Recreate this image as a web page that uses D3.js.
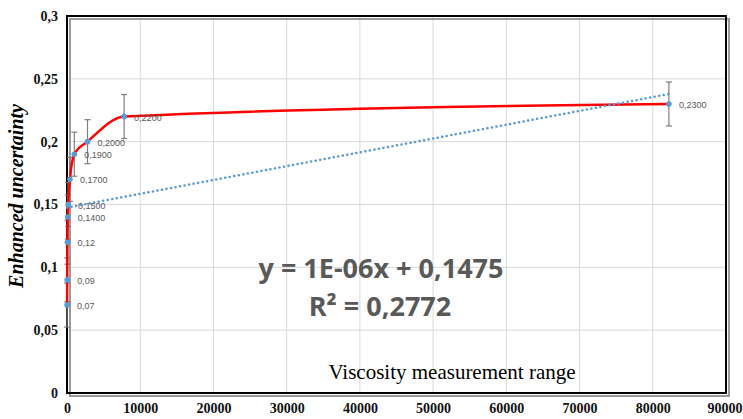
<!DOCTYPE html>
<html>
<head>
<meta charset="utf-8">
<script src="https://cdn.jsdelivr.net/npm/d3@7"></script>
<style>
  body { margin: 0; background: #fff; }
  .grid line { stroke: #d9d9d9; stroke-width: 1; }
  .lbl { font-family: "Liberation Sans", sans-serif; font-size: 9px; fill: #595959; }
</style>
</head>
<body>
<svg id="chart"></svg>
<script>
// measurement range (x) and enhanced uncertainty (y)
const rangeX = [10, 30, 60, 100, 150, 400, 1000, 2800, 7800, 82200];
const uncertY = [0.07, 0.09, 0.12, 0.14, 0.15, 0.17, 0.19, 0.20, 0.22, 0.23];
const pointLabels = ["0,07", "0,09", "0,12", "0,1400", "0,1500", "0,1700", "0,1900", "0,2000", "0,2200", "0,2300"];
const errBar = [0.0175, 0.0175, 0.0175, 0.0175, 0.0175, 0.0175, 0.0175, 0.0175, 0.0175, 0.0175];
const xTicks = [0, 10000, 20000, 30000, 40000, 50000, 60000, 70000, 80000, 90000];
const yTicks = [0, 0.05, 0.1, 0.15, 0.2, 0.25, 0.3];
// linear trend: slope, intercept
const trend = [1.1e-6, 0.1475];

const W = 743, H = 419;
const margin = { top: 16, right: 17, bottom: 26, left: 67 };
const width = W - margin.left - margin.right;
const height = H - margin.top - margin.bottom;

const svg = d3.select("#chart").attr("width", W).attr("height", H);
const g = svg.append("g").attr("transform", "translate(" + margin.left + "," + margin.top + ")");

const x = d3.scaleLinear().domain([0, 90000]).range([0, width]);
const y = d3.scaleLinear().domain([0, 0.3]).range([height, 0]);

const fmt = (v) => String(v).replace(".", ",");

// gridlines
g.append("g").attr("class", "grid")
  .selectAll("line").data(xTicks.slice(1, -1)).enter().append("line")
  .attr("x1", d => x(d)).attr("x2", d => x(d)).attr("y1", 0).attr("y2", height);
g.append("g").attr("class", "grid")
  .selectAll("line").data(yTicks.slice(1, -1)).enter().append("line")
  .attr("x1", 0).attr("x2", width).attr("y1", d => y(d)).attr("y2", d => y(d));

function styleTicks(a) {
  a.select(".domain").remove();
  a.attr("font-family", "Liberation Serif, serif").attr("font-size", 14).attr("font-weight", "bold");
  a.selectAll(".tick text").attr("fill", "#111");
}

// axes
const xAx = g.append("g")
  .attr("transform", "translate(0," + height + ")")
  .call(d3.axisBottom(x).tickValues(xTicks).tickSize(0).tickPadding(10).tickFormat(d => d))
  .call(styleTicks);
// keep the last label inside the picture
xAx.selectAll(".tick text").filter(d => d === 90000).attr("text-anchor", "end").attr("dx", 16);
g.append("g")
  .call(d3.axisLeft(y).tickValues(yTicks).tickSize(0).tickPadding(9).tickFormat(fmt))
  .call(styleTicks);

// frame with a slight shadow on the right and bottom
g.append("rect").attr("x", 3).attr("y", 3).attr("width", width).attr("height", height)
  .attr("fill", "none").attr("stroke", "#9a9a9a").attr("stroke-width", 2);
g.append("rect").attr("x", 0).attr("y", 0).attr("width", width).attr("height", height)
  .attr("fill", "none").attr("stroke", "#000").attr("stroke-width", 2);

const pts = rangeX.map((v, i) => ({ x: v, y: uncertY[i], e: errBar[i], t: pointLabels[i] }));

// error bars
const eb = g.append("g").attr("stroke", "#7f7f7f").attr("stroke-width", 1.2);
pts.forEach(d => {
  eb.append("line").attr("x1", x(d.x)).attr("x2", x(d.x)).attr("y1", y(d.y + d.e)).attr("y2", y(d.y - d.e));
  eb.append("line").attr("x1", x(d.x) - 3).attr("x2", x(d.x) + 3).attr("y1", y(d.y + d.e)).attr("y2", y(d.y + d.e));
  eb.append("line").attr("x1", x(d.x) - 3).attr("x2", x(d.x) + 3).attr("y1", y(d.y - d.e)).attr("y2", y(d.y - d.e));
});

// smoothed red curve
const curve = d3.line().x(d => x(d.x)).y(d => y(d.y)).curve(d3.curveMonotoneX);
g.append("path").datum(pts).attr("d", curve)
  .attr("fill", "none").attr("stroke", "#ff0000").attr("stroke-width", 2.5);

// linear trendline
const trendPts = [0, rangeX[rangeX.length - 1]].map(v => ({ x: v, y: trend[0] * v + trend[1] }));
g.append("path").datum(trendPts)
  .attr("d", d3.line().x(d => x(d.x)).y(d => y(d.y)))
  .attr("fill", "none").attr("stroke", "#5b9bd5").attr("stroke-width", 2.5)
  .attr("stroke-dasharray", "0.1 4.5").attr("stroke-linecap", "round");

// markers
g.append("g").selectAll("circle").data(pts).enter().append("circle")
  .attr("cx", d => x(d.x)).attr("cy", d => y(d.y)).attr("r", 2.8).attr("fill", "#5b9bd5");

// data labels
g.append("g").selectAll("text").data(pts).enter().append("text")
  .attr("class", "lbl")
  .attr("x", d => x(d.x) + 10).attr("y", d => y(d.y) + 4)
  .text(d => d.t);

// axis titles
svg.append("text")
  .attr("transform", "translate(23,196) rotate(-90)")
  .attr("text-anchor", "middle")
  .style("font-family", "Liberation Serif, serif").style("font-weight", "bold")
  .style("font-style", "italic").style("font-size", "20px")
  .text("Enhanced uncertainty");
svg.append("text")
  .attr("x", 452).attr("y", 379).attr("text-anchor", "middle")
  .style("font-family", "Liberation Serif, serif").style("font-size", "21px")
  .text("Viscosity measurement range");

// trendline equation
const eq = svg.append("text").attr("text-anchor", "middle")
  .style("font-family", "Open Sans, sans-serif").style("font-weight", "bold")
  .style("font-size", "27px").attr("fill", "#595959");
eq.append("tspan").attr("x", 381).attr("y", 278).text("y = 1E-06x + 0,1475");
eq.append("tspan").attr("x", 380).attr("y", 316).text("R² = 0,2772");
</script>
</body>
</html>
